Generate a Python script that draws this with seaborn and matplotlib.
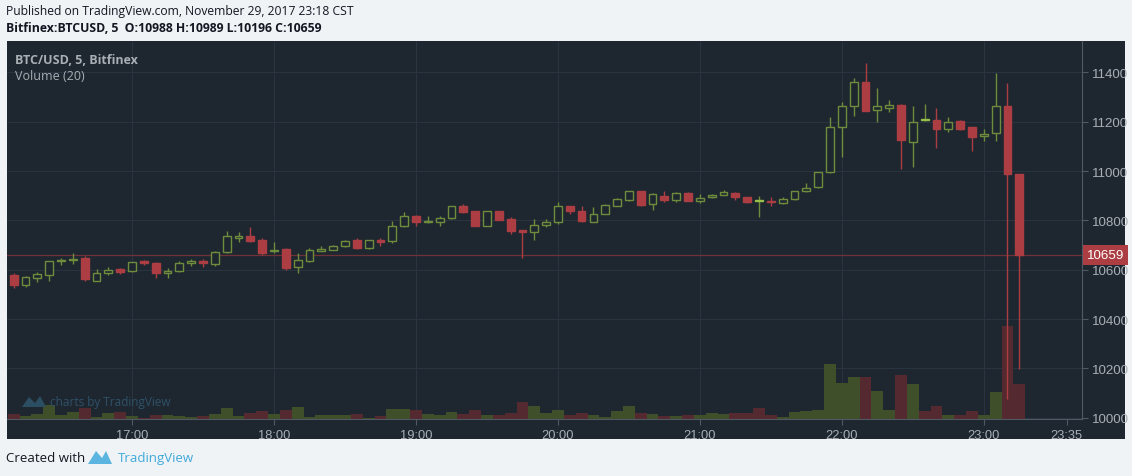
import matplotlib
matplotlib.use("Agg")
import matplotlib.pyplot as plt
import matplotlib.transforms as mtransforms
from matplotlib.patches import Rectangle, Polygon
import seaborn as sns
import pandas as pd
import numpy as np

# 5 minute candles, Bitfinex BTC/USD, 29 Nov 2017
start = "2017-11-29 16:10"
opens = [10578, 10539, 10566, 10577, 10634, 10638, 10647, 10555, 10585, 10601,
         10593, 10635, 10627, 10586, 10593, 10627, 10634, 10624, 10670, 10728,
         10738, 10720, 10674, 10684, 10610, 10634, 10677, 10681, 10695, 10720,
         10688, 10720, 10717, 10776, 10819, 10793, 10792, 10808, 10857, 10837,
         10778, 10837, 10805, 10761, 10751, 10782, 10794, 10857, 10837, 10794,
         10826, 10859, 10882, 10918, 10866, 10900, 10884, 10911, 10880, 10893,
         10903, 10911, 10893, 10881, 10880, 10869, 10886, 10918, 10934, 10995,
         11177, 11265, 11360, 11247, 11256, 11268, 11116, 11212, 11207, 11170,
         11204, 11177, 11141, 11154, 11262, 10988]
highs = [10586, 10573, 10592, 10634, 10646, 10668, 10654, 10603, 10613, 10605,
         10632, 10639, 10631, 10605, 10634, 10643, 10643, 10676, 10755, 10751,
         10772, 10728, 10712, 10688, 10668, 10688, 10697, 10700, 10720, 10728,
         10722, 10728, 10797, 10835, 10822, 10818, 10818, 10859, 10866, 10840,
         10840, 10840, 10814, 10763, 10806, 10806, 10876, 10859, 10857, 10853,
         10866, 10890, 10920, 10920, 10910, 10919, 10914, 10914, 10907, 10906,
         10925, 10914, 10895, 10897, 10894, 10893, 10920, 10950, 10997, 11218,
         11280, 11376, 11438, 11335, 11286, 11270, 11262, 11270, 11254, 11218,
         11208, 11180, 11170, 11397, 11357, 10989]
lows = [10526, 10532, 10551, 10555, 10619, 10623, 10553, 10553, 10580, 10582,
        10590, 10618, 10566, 10566, 10590, 10614, 10610, 10616, 10668, 10713,
        10714, 10659, 10667, 10600, 10586, 10632, 10675, 10680, 10693, 10686,
        10686, 10697, 10709, 10774, 10778, 10788, 10778, 10806, 10830, 10776,
        10776, 10800, 10744, 10647, 10719, 10774, 10786, 10826, 10792, 10792,
        10824, 10857, 10880, 10860, 10842, 10876, 10876, 10878, 10872, 10890,
        10901, 10884, 10871, 10812, 10859, 10867, 10884, 10916, 10932, 10993,
        11055, 11222, 11242, 11200, 11240, 11008, 11018, 11204, 11094, 11160,
        11165, 11083, 11121, 11122, 10076, 10196]
closes = [10539, 10569, 10582, 10634, 10638, 10645, 10562, 10586, 10600, 10592,
          10632, 10626, 10586, 10595, 10626, 10635, 10626, 10670, 10735, 10738,
          10716, 10668, 10680, 10606, 10641, 10680, 10684, 10695, 10717, 10688,
          10720, 10713, 10776, 10816, 10794, 10798, 10808, 10857, 10835, 10778,
          10837, 10803, 10756, 10751, 10782, 10794, 10857, 10837, 10796, 10826,
          10862, 10886, 10918, 10862, 10907, 10884, 10911, 10880, 10891, 10904,
          10914, 10893, 10873, 10878, 10874, 10886, 10918, 10930, 10995, 11177,
          11265, 11360, 11244, 11262, 11269, 11127, 11200, 11206, 11170, 11197,
          11170, 11139, 11150, 11262, 10988, 10659]
volumes = [50, 27, 50, 140, 40, 67, 107, 17, 60, 67,
           33, 15, 40, 40, 27, 17, 27, 50, 107, 27,
           60, 80, 47, 93, 120, 17, 40, 40, 40, 50,
           10, 33, 100, 100, 90, 50, 40, 70, 47, 90,
           40, 43, 60, 173, 133, 60, 90, 40, 60, 40,
           20, 80, 130, 60, 47, 30, 27, 40, 40, 57,
           47, 57, 57, 110, 40, 20, 67, 80, 90, 550,
           360, 417, 417, 277, 90, 440, 350, 77, 133, 40,
           40, 77, 40, 267, 930, 350]

time_labels = ["17:00", "18:00", "19:00", "20:00", "21:00", "22:00", "23:00", "23:35"]
price_ticks = [10000, 10200, 10400, 10600, 10800, 11000, 11200, 11400]
last_price = 10659

BG = "#1e2730"
PAGE = "#f0f3f5"
GRID = "#283440"
AXIS = "#4f5a64"
TXT = "#a8afb5"
RED = "#ac3d42"
GREEN = "#6e8c3c"
GREEN_FILL = "#98bf48"
VOL_UP = "#3f4f2a"
VOL_DOWN = "#54292f"

df = pd.DataFrame({"time": pd.date_range(start, periods=len(opens), freq="5min"),
                   "open": opens, "high": highs, "low": lows, "close": closes,
                   "volume": volumes})
df["x"] = np.arange(len(df))
df["dir"] = np.where(df["close"] >= df["open"], "up", "down")
prev_close = df["close"].shift(1).fillna(df["open"])
df["color"] = np.where(df["close"] >= prev_close, "g", "r")

t0 = df["time"].iloc[0]
tick_x = [(pd.Timestamp("2017-11-29 " + t) - t0) / pd.Timedelta("5min") for t in time_labels]

sns.set_style("dark")
plt.rcParams["font.family"] = ["Liberation Sans", "DejaVu Sans"]

W, H = 1132, 477
fig = plt.figure(figsize=(W / 100, H / 100), dpi=100, facecolor=PAGE)


def fx(px):
    return px / W


def fy(py):
    return 1 - py / H


# dark chart panel (behind the axes)
fig.patches.append(Rectangle((fx(7), fy(440)), fx(1125) - fx(7), fy(42) - fy(440),
                             transform=fig.transFigure, facecolor=BG, edgecolor="none", zorder=-1))

axv = fig.add_axes([fx(7), fy(420), fx(1082) - fx(7), fy(42) - fy(420)])
axv.set_facecolor(BG)
ax = axv.twinx()
ax.set_zorder(axv.get_zorder() + 1)
ax.patch.set_visible(False)

vol_top = max(volumes) * 378 / 93

# grid (on the volume pane so bars sit over it)
for p in price_ticks:
    axv.axhline((p - 9995) / (11527 - 9995) * vol_top, color=GRID, lw=0.8, zorder=0)

# volume
sns.barplot(data=df, x="x", y="volume", hue="dir", palette={"up": VOL_UP, "down": VOL_DOWN},
            native_scale=True, orient="x", dodge=False, width=1.0, saturation=1,
            legend=False, linewidth=0, ax=axv)
axv.set_ylim(0, vol_top)
axv.set_xlabel("")
axv.set_ylabel("")
axv.set_yticks([])
for s in axv.spines.values():
    s.set_visible(False)
for xt in tick_x[:-1]:
    axv.axvline(xt, color=GRID, lw=0.8, zorder=0)

# candles
for _, r in df.iterrows():
    col = GREEN if r["color"] == "g" else RED
    ax.vlines(r["x"], r["low"], r["high"], color=col, lw=1, zorder=2)
    lo = min(r["open"], r["close"])
    h = max(abs(r["close"] - r["open"]), 1.5)
    if r["dir"] == "up":
        ax.bar(r["x"], h, bottom=lo, width=0.66, facecolor=BG, edgecolor=col, lw=1, zorder=3)
    else:
        fill = GREEN_FILL if r["color"] == "g" else col
        ax.bar(r["x"], h, bottom=lo, width=0.66, facecolor=fill, edgecolor=fill, lw=1, zorder=3)

ax.axhline(last_price, color="#6e3238", lw=0.9, zorder=1)

ax.set_xlim(-0.57, 90.3)
ax.set_ylim(9995, 11527)
ax.set_yticks(price_ticks)
ax.set_yticklabels([str(p) for p in price_ticks])
ax.tick_params(axis="y", colors=AXIS, labelcolor=TXT, labelsize=9.6, length=4, pad=3, right=True)
axv.set_xticks(tick_x)
axv.set_xticklabels(time_labels)
axv.tick_params(axis="x", colors=AXIS, labelcolor=TXT, labelsize=9.3, length=4, pad=3, bottom=True)

for s in ax.spines.values():
    s.set_visible(False)
ax.spines["right"].set_visible(True)
ax.spines["right"].set_color(AXIS)
ax.spines["bottom"].set_visible(True)
ax.spines["bottom"].set_color(AXIS)

# last price label
trans = mtransforms.blended_transform_factory(ax.transAxes, ax.transData)
ax.text(1.0045, last_price, str(last_price), transform=trans, ha="left", va="center",
        color="white", fontsize=9.6,
        bbox=dict(boxstyle="square,pad=0.28", facecolor=RED, edgecolor="none"))

# legend texts
fig.text(fx(15), fy(60), "BTC/USD, 5, Bitfinex", color=TXT, fontsize=9, fontweight="bold",
         va="center", family=["Open Sans", "DejaVu Sans"])
fig.text(fx(15), fy(77), "Volume (20)", color=TXT, fontsize=9, va="center",
         family=["Open Sans", "DejaVu Sans"])

# watermark
fig.patches.append(Polygon([(fx(22), fy(408)), (fx(29), fy(398)), (fx(35), fy(404)),
                            (fx(40), fy(397)), (fx(46), fy(408))],
                           closed=True, transform=fig.transFigure, facecolor="#2c4e63",
                           edgecolor="none", zorder=5))
fig.text(fx(50), fy(403), "charts by TradingView", color="#2f5168", fontsize=8.5, va="center",
         family=["Open Sans", "DejaVu Sans"])

# header / footer
fig.text(fx(6), fy(12), "Published on TradingView.com, November 29, 2017 23:18 CST",
         color="#131722", fontsize=8.7, va="center", family=["Open Sans", "DejaVu Sans"])
fig.text(fx(6), fy(29), "Bitfinex:BTCUSD, 5  O:10988 H:10989 L:10196 C:10659",
         color="#131722", fontsize=8.8, fontweight="bold", va="center",
         family=["Open Sans", "DejaVu Sans"])
fig.text(fx(6), fy(459), "Created with", color="#131722", fontsize=9.5, va="center",
         family=["Open Sans", "DejaVu Sans"])
fig.patches.append(Polygon([(fx(88), fy(465)), (fx(96), fy(452)), (fx(102), fy(459)),
                            (fx(106), fy(452)), (fx(112), fy(465))],
                           closed=True, transform=fig.transFigure, facecolor="#5bb5e0",
                           edgecolor="none", zorder=5))
fig.text(fx(118), fy(459), "TradingView", color="#3fa9dc", fontsize=9.5, va="center",
         family=["Open Sans", "DejaVu Sans"])

fig.savefig("out.png", dpi=100, facecolor=PAGE)
